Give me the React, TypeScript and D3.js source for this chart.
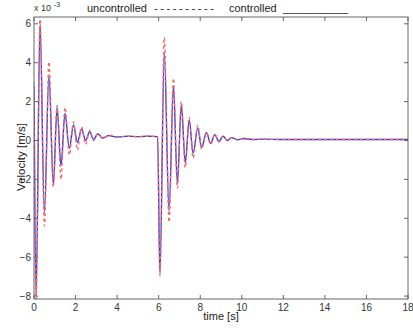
import React from "react";
import * as d3 from "d3";

const times = [0, 0.1, 0.29, 0.5, 0.72, 0.93, 1.11, 1.3, 1.49, 1.7, 1.9, 2.09, 2.29, 2.48, 2.68, 2.87, 3.07, 3.3, 3.6, 4.0, 4.5, 5.0, 5.5, 5.95, 6.06, 6.27, 6.5, 6.71, 6.9, 7.09, 7.28, 7.47, 7.66, 7.88, 8.07, 8.3, 8.5, 8.7, 8.9, 9.1, 9.3, 9.5, 9.8, 10.1, 10.5, 11, 12, 14, 16, 18];

const controlled = [2.8, -8.0, 6.0, -3.7, 3.4, -2.3, 1.7, -1.3, 1.4, -0.4, 0.8, -0.1, 0.6, 0.0, 0.45, 0.05, 0.35, 0.12, 0.25, 0.18, 0.22, 0.2, 0.22, 0.2, -6.85, 4.5, -3.65, 2.8, -2.2, 1.85, -1.15, 1.05, -0.65, 0.65, -0.35, 0.4, -0.15, 0.3, -0.05, 0.22, 0.0, 0.15, 0.04, 0.1, 0.05, 0.07, 0.05, 0.05, 0.05, 0.05];

const uncontrolled = [3.0, -8.3, 6.4, -4.4, 4.05, -2.4, 1.8, -2.0, 1.7, -0.75, 0.95, -0.5, 0.7, -0.2, 0.5, 0.0, 0.35, 0.1, 0.28, 0.18, 0.22, 0.2, 0.22, 0.2, -6.95, 5.3, -4.2, 3.2, -2.45, 2.0, -1.4, 1.2, -0.9, 0.8, -0.45, 0.45, -0.2, 0.32, -0.08, 0.24, 0.0, 0.16, 0.03, 0.1, 0.05, 0.07, 0.05, 0.05, 0.05, 0.05];

const xTicks = [0, 2, 4, 6, 8, 10, 12, 14, 16, 18];
const yTicks = [-8, -6, -4, -2, 0, 2, 4, 6];

const W = 413;
const H = 328;
const m = { left: 34, right: 5, top: 17, bottom: 29 };
const FONT = "'Liberation Sans', Arial, Helvetica, sans-serif";

export default function App() {
  const x = d3.scaleLinear().domain([0, 18]).range([m.left, W - m.right]);
  const y = d3.scaleLinear().domain([-8.15, 6.35]).range([H - m.bottom, m.top]);
  const line = d3
    .line<number>()
    .x((_, i) => x(times[i]))
    .y((d) => y(d))
    .curve(d3.curveMonotoneX);

  const x0 = m.left, x1 = W - m.right, y0 = H - m.bottom, y1 = m.top;
  const tl = 4;

  return (
    <svg width={W} height={H} style={{ position: "absolute", left: 0, top: 0, background: "#fff" }} fontFamily={FONT}>
      <defs>
        <clipPath id="plotclip">
          <rect x={x0} y={y1} width={x1 - x0} height={y0 - y1} />
        </clipPath>
      </defs>
      <g clipPath="url(#plotclip)">
        <path d={line(controlled) || ""} fill="none" stroke="#3a3ad6" strokeWidth={1.4} />
        <path d={line(uncontrolled) || ""} fill="none" stroke="#f46a6a" strokeWidth={1.4} strokeDasharray="3,3" />
      </g>
      <rect x={x0} y={y1} width={x1 - x0} height={y0 - y1} fill="none" stroke="#666" strokeWidth={1} />
      {xTicks.map((t) => (
        <g key={"x" + t}>
          <line x1={x(t)} x2={x(t)} y1={y0} y2={y0 - tl} stroke="#666" />
          <line x1={x(t)} x2={x(t)} y1={y1} y2={y1 + tl} stroke="#666" />
          <text x={x(t)} y={311} fontSize={10} textAnchor="middle" fill="#333">{t}</text>
        </g>
      ))}
      {yTicks.map((t) => (
        <g key={"y" + t}>
          <line x1={x0} x2={x0 + tl} y1={y(t)} y2={y(t)} stroke="#666" />
          <line x1={x1} x2={x1 - tl} y1={y(t)} y2={y(t)} stroke="#666" />
          <text x={31} y={y(t) + 3.5} fontSize={10} textAnchor="end" fill="#333">{t < 0 ? "\u2212" + Math.abs(t) : t}</text>
        </g>
      ))}
      <text x={34} y={11} fontSize={9} fill="#333">x 10</text>
      <text x={54} y={7} fontSize={7} fill="#333">-3</text>
      <text x={87} y={12} fontSize={11} fill="#222">uncontrolled</text>
      <text x={154} y={12} fontSize={11} fill="#222" textLength={60} lengthAdjust="spacing">----------</text>
      <text x={229} y={12} fontSize={11} fill="#222">controlled</text>
      <text x={283} y={12} fontSize={11} fill="#222" textLength={65} lengthAdjust="spacingAndGlyphs">___________</text>
      <text x={221} y={320} fontSize={11} textAnchor="middle" fill="#222">time [s]</text>
      <text transform="translate(25,157) rotate(-90)" fontSize={11.5} textAnchor="middle" fill="#222">Velocity [m/s]</text>
    </svg>
  );
}
